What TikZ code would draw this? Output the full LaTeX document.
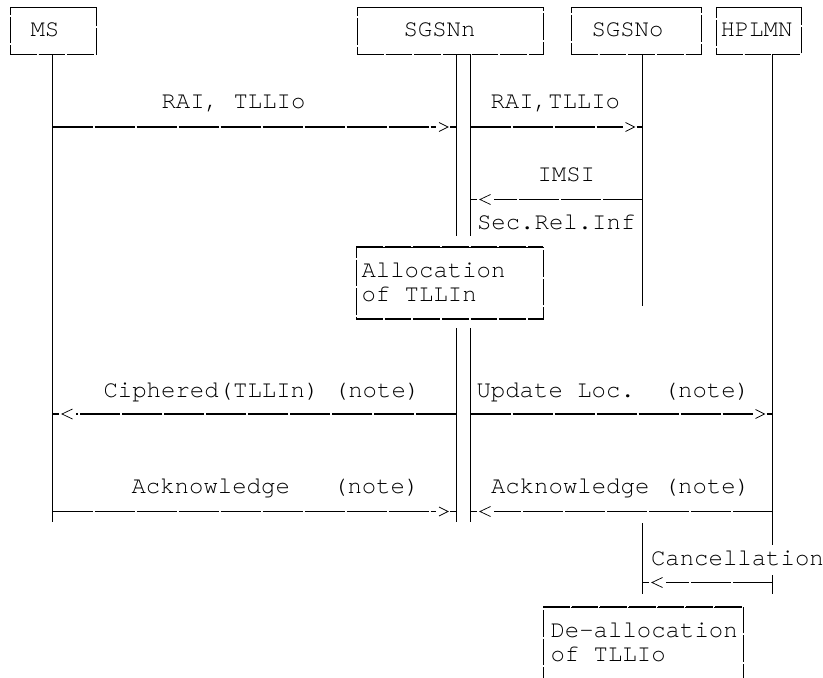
\documentclass[tikz,border=0pt]{standalone}
\usepackage{fontspec}
\newfontfamily\courfont{TeX Gyre Cursor}
\usetikzlibrary{calc}
\tikzset{
  txt/.style={font=\courfont\fontsize{18}{24}\selectfont, anchor=base west, inner sep=0pt, outer sep=0pt, text=black},
  boxline/.style={draw=black, line width=0.75pt, dash pattern=on 20pt off 1.5pt, inner sep=0pt, outer sep=0pt, rectangle},
  boxh/.style={draw=black, line width=1.25pt, dash pattern=on 20pt off 1.5pt},
  life/.style={draw=black, line width=0.75pt},
  msg/.style={draw=black, line width=1.25pt, dash pattern=on 30pt off 1.5pt},
  chev/.style={draw=black, line width=0.55pt},
  rtip/.pic={\draw[chev] (-17,-4.5) -- (-8,0) -- (-17,4.5); \draw[line width=1.1pt] (-6,0) -- (0,0);},
  ltip/.pic={\draw[chev] (20,-5) -- (9.5,0) -- (20,5); \draw[line width=1.1pt] (6,0) -- (0,0);},
}
\begin{document}
\begin{tikzpicture}[x=0.75pt,y=-0.75pt]
\useasboundingbox (0,0) rectangle (823,677);

% actor boxes
\node[boxline, minimum width=64.875pt, minimum height=35.25pt] (msbox) at (53.25,31) {};
\node[boxline, minimum width=139.5pt, minimum height=35.25pt] (snbox) at (450,31) {};
\node[boxline, minimum width=97.875pt, minimum height=35.25pt] (sobox) at (636.25,31) {};
\node[boxline, minimum width=63.75pt, minimum height=35.25pt] (hpbox) at (758.5,31) {};
\foreach \b in {msbox,snbox,sobox,hpbox}{
  \draw[boxh] (\b.north west) -- (\b.north east);
  \draw[boxh] (\b.south west) -- (\b.south east);
}
\node[txt] (mst) at (30.5,37) {MS};
\node[txt] (snt) at (403.5,37) {SGSNn};
\node[txt] (sot) at (591.5,37) {SGSNo};
\node[txt] (hpt) at (720.5,37) {HPLMN};

% process boxes
\node[boxline, minimum width=140.25pt, minimum height=54pt] (alloc) at (449.5,283) {};
\draw[boxh] (alloc.north west) -- (alloc.north east);
\draw[boxh] (alloc.south west) -- (alloc.south east);
\node[txt] (alloct1) at (361.5,277) {Allocation};
\node[txt] (alloct2) at (361.5,301) {of TLLIn};
\node[boxline, minimum width=150pt, minimum height=84.75pt] (dealloc) at (643,663.5) {};
\draw[boxh] (dealloc.north west) -- (dealloc.north east);
\node[txt] (dealt1) at (550.5,637) {De-allocation};
\node[txt] (dealt2) at (550.5,661) {of TLLIo};

% lifelines
\coordinate (ms0) at (52.5,54.5);  \coordinate (ms1) at (52.5,522);
\coordinate (na0) at (456,54.5);   \coordinate (na1) at (456,236);
\coordinate (na2) at (456,328);    \coordinate (na3) at (456,522);
\coordinate (nb0) at (470.5,54.5); \coordinate (nb1) at (470.5,236);
\coordinate (nb2) at (470.5,328);  \coordinate (nb3) at (470.5,522);
\coordinate (so0) at (642.5,54.5); \coordinate (so1) at (642.5,306);
\coordinate (so2) at (642.5,523);  \coordinate (so3) at (642.5,594);
\coordinate (hp0) at (772.5,54.5); \coordinate (hp1) at (772.5,545);
\coordinate (hp2) at (772.5,575);  \coordinate (hp3) at (772.5,594);
\draw[life] (ms0) -- (ms1);
\draw[life] (na0) -- (na1); \draw[life] (na2) -- (na3);
\draw[life] (nb0) -- (nb1); \draw[life] (nb2) -- (nb3);
\draw[life] (so0) -- (so1); \draw[life] (so2) -- (so3);
\draw[life] (hp0) -- (hp1); \draw[life] (hp2) -- (hp3);

% message 1: MS -> SGSNn
\coordinate (m1a) at (52.5,127); \coordinate (m1b) at (456,127);
\draw[msg] (m1a) -- ($(m1b)+(-20,0)$); \pic at (m1b) {rtip};
\node[txt] (l1) at (161.5,109) {RAI, TLLIo};
% message 2: SGSNn -> SGSNo
\coordinate (m2a) at (470.5,127); \coordinate (m2b) at (642.5,127);
\draw[msg] (m2a) -- ($(m2b)+(-20,0)$); \pic at (m2b) {rtip};
\node[txt] (l2) at (490.5,109) {RAI,TLLIo};
% message 3: SGSNo -> SGSNn
\coordinate (m3a) at (642.5,199.5); \coordinate (m3b) at (470.5,199.5);
\draw[msg] (m3a) -- ($(m3b)+(23,0)$); \pic at (m3b) {ltip};
\node[txt] (l3a) at (537.5,181) {IMSI};
\node[txt] (l3b) at (477,229) {Sec.Rel.Inf};
% message 4: SGSNn -> MS
\coordinate (m4a) at (456,414); \coordinate (m4b) at (52.5,414);
\draw[msg] (m4a) -- ($(m4b)+(23,0)$); \pic at (m4b) {ltip};
\node[txt] (l4) at (103.5,397) {Ciphered(TLLIn) (note)};
% message 5: SGSNn -> HPLMN
\coordinate (m5a) at (470.5,414); \coordinate (m5b) at (772.5,414);
\draw[msg] (m5a) -- ($(m5b)+(-20,0)$); \pic at (m5b) {rtip};
\node[txt] (l5) at (476.5,397) {Update Loc.\ \ (note)};
% message 6: MS -> SGSNn
\coordinate (m6a) at (52.5,511.5); \coordinate (m6b) at (456,511.5);
\draw[msg] (m6a) -- ($(m6b)+(-20,0)$); \pic at (m6b) {rtip};
\node[txt] (l6) at (131.5,493) {Acknowledge\ \ \ (note)};
% message 7: HPLMN -> SGSNn
\coordinate (m7a) at (772.5,511.5); \coordinate (m7b) at (470.5,511.5);
\draw[msg] (m7a) -- ($(m7b)+(23,0)$); \pic at (m7b) {ltip};
\node[txt] (l7) at (491,493) {Acknowledge (note)};
% message 8: HPLMN -> SGSNo
\coordinate (m8a) at (772.5,582.5); \coordinate (m8b) at (642.5,582.5);
\draw[msg] (m8a) -- ($(m8b)+(23,0)$); \pic at (m8b) {ltip};
\node[txt] (l8) at (651,565) {Cancellation};
\end{tikzpicture}
\end{document}
